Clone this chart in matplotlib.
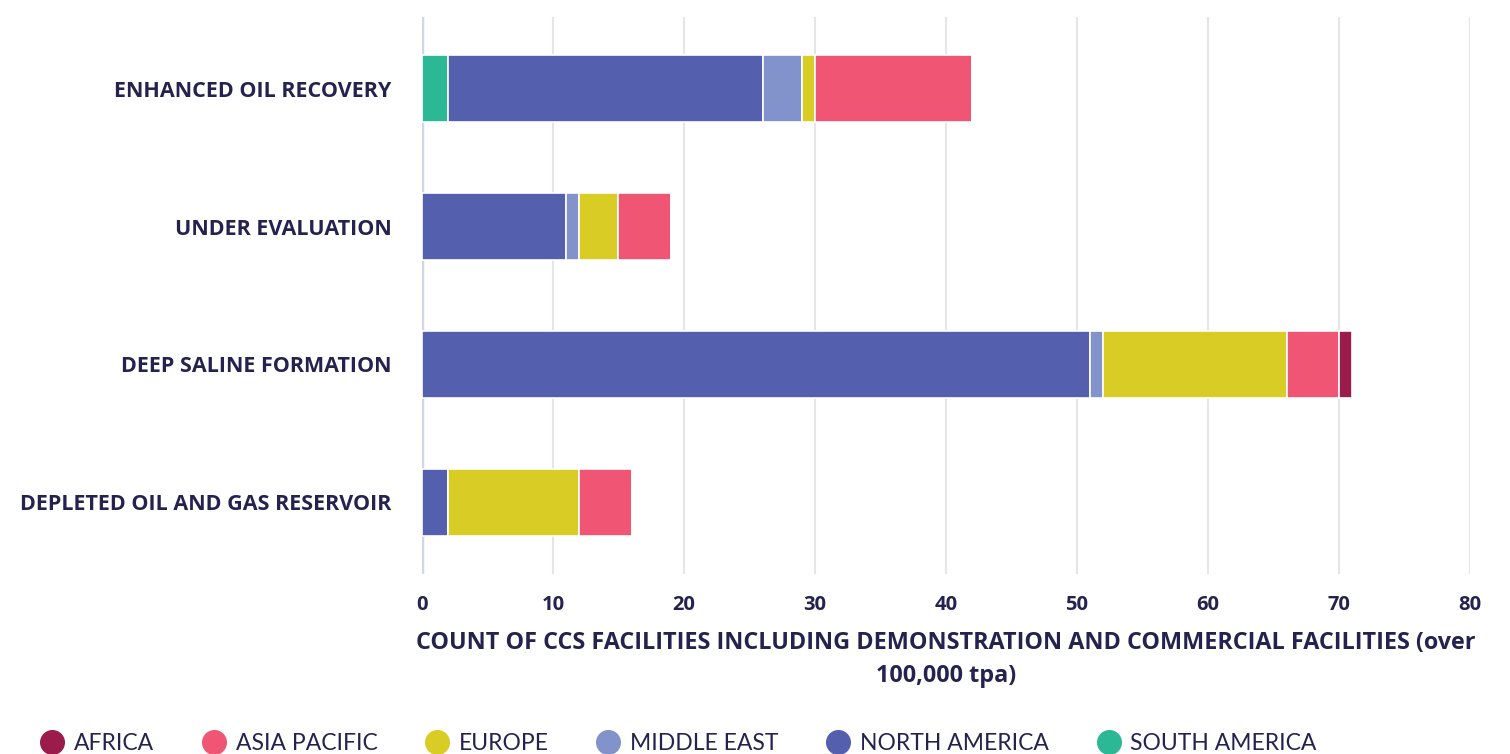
import matplotlib.pyplot as plt
from matplotlib.lines import Line2D

# Storage types, listed top to bottom
storage_types = ["ENHANCED OIL RECOVERY", "UNDER EVALUATION",
                 "DEEP SALINE FORMATION", "DEPLETED OIL AND GAS RESERVOIR"]

# Facility counts per region, same order as storage_types
south_america = [2, 0, 0, 0]
north_america = [24, 11, 51, 2]
middle_east = [3, 1, 1, 0]
europe = [1, 3, 14, 10]
asia_pacific = [12, 4, 4, 4]
africa = [0, 0, 1, 0]

# stacking order left to right
stack = [
    ("SOUTH AMERICA", south_america, "#2bb895"),
    ("NORTH AMERICA", north_america, "#545fad"),
    ("MIDDLE EAST", middle_east, "#8193ca"),
    ("EUROPE", europe, "#d9cc24"),
    ("ASIA PACIFIC", asia_pacific, "#f05673"),
    ("AFRICA", africa, "#9b1b4b"),
]
legend_order = ["AFRICA", "ASIA PACIFIC", "EUROPE", "MIDDLE EAST",
                "NORTH AMERICA", "SOUTH AMERICA"]

navy = "#25224f"
bold_font = ["Open Sans", "DejaVu Sans"]
plt.rcParams["font.family"] = ["Lato", "DejaVu Sans"]

fig = plt.figure(figsize=(15.1, 7.54), dpi=100)
ax = fig.add_axes([422 / 1510, 1 - 574 / 754, 1048 / 1510, 557 / 754])

ypos = list(range(len(storage_types)))
left = [0] * len(storage_types)
for name, vals, col in stack:
    ax.barh(ypos, vals, left=left, height=0.49, color=col,
            edgecolor="white", linewidth=1.2, zorder=3)
    left = [l + v for l, v in zip(left, vals)]

ax.set_xlim(0, 80)
ax.set_ylim(3.52, -0.52)
ax.set_xticks(range(0, 81, 10))
ax.set_yticks(ypos)
ax.set_yticklabels(storage_types)
ax.grid(axis="x", color="#e6e6e6", linewidth=1.5, zorder=0)
ax.axvline(0, color="#d3d6ea", linewidth=2.5, zorder=2)
for s in ax.spines.values():
    s.set_visible(False)
ax.tick_params(length=0)
ax.tick_params(axis="y", pad=22, labelsize=15.5, labelcolor=navy)
ax.tick_params(axis="x", pad=15, labelsize=14.5, labelcolor=navy)
for t in ax.get_yticklabels() + ax.get_xticklabels():
    t.set_fontweight("bold")
    t.set_family(bold_font)

ax.set_xlabel("COUNT OF CCS FACILITIES INCLUDING DEMONSTRATION AND COMMERCIAL FACILITIES (over\n100,000 tpa)",
              fontsize=16.8, fontweight="bold", color=navy, labelpad=12,
              linespacing=1.45, family=bold_font)

colors = {name: col for name, _, col in stack}
handles = [Line2D([], [], marker="o", linestyle="none", markersize=17,
                  markerfacecolor=colors[n], markeredgecolor=colors[n])
           for n in legend_order]
fig.legend(handles, legend_order, loc="lower left",
           bbox_to_anchor=(0.012, -0.028), ncol=6, frameon=False,
           fontsize=16.5, labelcolor=navy, handletextpad=0.35,
           columnspacing=2.0, handlelength=1.2)

fig.savefig("out.png", dpi=100)
